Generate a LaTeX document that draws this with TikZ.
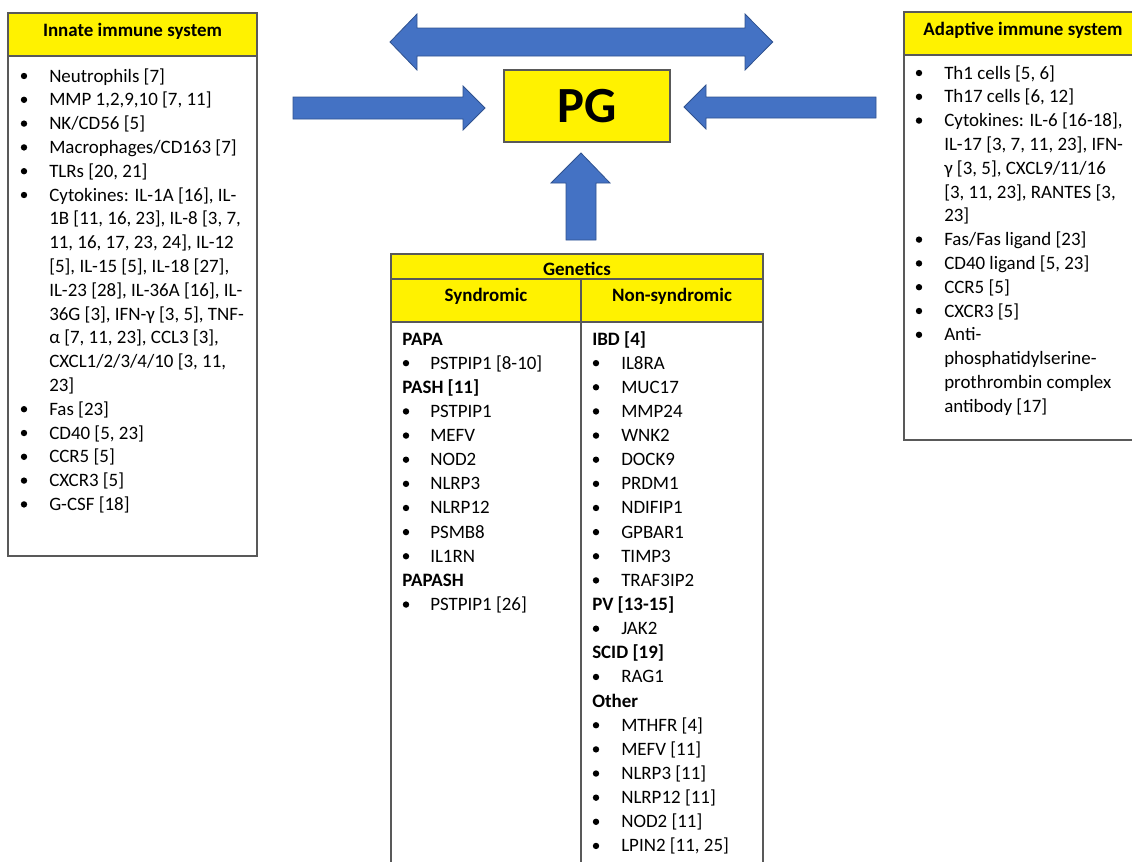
\documentclass[tikz,border=0pt]{standalone}
\usepackage{fontspec}
\setmainfont{Carlito}
\definecolor{arrowblue}{HTML}{4472C4}
\definecolor{arrowedge}{HTML}{2F528F}
\definecolor{boxline}{HTML}{595959}
\begin{document}
\begin{tikzpicture}[x=0.75pt,y=-0.75pt,
  txt/.style={font=\fontsize{14.2pt}{17pt}\selectfont, inner sep=0pt, anchor=base west, text=black},
  boldtxt/.style={txt, font=\fontsize{14.2pt}{17pt}\selectfont\bfseries},
  hdr/.style={boldtxt, anchor=base},
  boxframe/.style={draw=boxline, line width=0.8pt},
  ybox/.style={boxframe, fill=yellow},
  blk/.style={fill=arrowblue, draw=arrowedge, line width=0.6pt, line join=miter},
  bul/.style={fill=black}]
\useasboundingbox (0,0) rectangle (1132,861);

% ---------- Innate immune system ----------
\draw[boxframe] (8,13) rectangle (257,556);
\draw[ybox] (8,13) rectangle (257,56);
\node[hdr] (innhead) at (132.5,36) {Innate immune system};
\foreach \t [count=\i] in {
  {Neutrophils [7]},
  {MMP 1,2,9,10 [7, 11]},
  {NK/CD56 [5]},
  {Macrophages/CD163 [7]},
  {TLRs [20, 21]},
  {Cytokines: IL-1A [16], IL-},
  {1B [11, 16, 23], IL-8 [3, 7,},
  {11, 16, 17, 23, 24], IL-12},
  {[5], IL-15 [5], IL-18 [27],},
  {IL-23 [28], IL-36A [16], IL-},
  {36G [3], IFN-γ [3, 5], TNF-},
  {α [7, 11, 23], CCL3 [3],},
  {CXCL1/2/3/4/10 [3, 11,},
  {23]},
  {Fas [23]},
  {CD40 [5, 23]},
  {CCR5 [5]},
  {CXCR3 [5]},
  {G-CSF [18]}}
  \node[txt] (inn\i) at (49,{82+(\i-1)*23.8}) {\t};
\foreach \i in {1,2,3,4,5,6,15,16,17,18,19}
  \fill[bul] (24,{82+(\i-1)*23.8-6}) circle (2.4pt);

% ---------- Adaptive immune system ----------
\draw[boxframe] (904,12) rectangle (1142,440);
\draw[ybox] (904,12) rectangle (1142,55);
\node[hdr] (adahead) at (1023,35) {Adaptive immune system};
\foreach \t [count=\i] in {
  {Th1 cells [5, 6]},
  {Th17 cells [6, 12]},
  {Cytokines: IL-6 [16-18],},
  {IL-17 [3, 7, 11, 23], IFN-},
  {γ [3, 5], CXCL9/11/16},
  {[3, 11, 23], RANTES [3,},
  {23]},
  {Fas/Fas ligand [23]},
  {CD40 ligand [5, 23]},
  {CCR5 [5]},
  {CXCR3 [5]},
  {Anti-},
  {phosphatidylserine-},
  {prothrombin complex},
  {antibody [17]}}
  \node[txt] (ada\i) at (944,{79+(\i-1)*23.8}) {\t};
\foreach \i in {1,2,3,8,9,10,11,12}
  \fill[bul] (919,{79+(\i-1)*23.8-6}) circle (2.4pt);

% ---------- PG ----------
\node[ybox, minimum width=124.5pt, minimum height=54pt, inner sep=0pt,
      font=\fontsize{38pt}{40pt}\selectfont\bfseries] (pg) at (587,106) {PG};

% ---------- Block arrows ----------
\filldraw[blk] (390,42) -- (417,14) -- (417,28) -- (745,28) -- (745,14) -- (772.7,42)
  -- (745,70) -- (745,56) -- (417,56) -- (417,70) -- cycle;
\filldraw[blk] (293,97) -- (463,97) -- (463,86) -- (485,108) -- (463,130) -- (463,119)
  -- (293,119) -- cycle;
\filldraw[blk] (876,97) -- (706,97) -- (706,85) -- (684,107) -- (706,129) -- (706,118)
  -- (876,118) -- cycle;
\filldraw[blk] (581,153) -- (610,183) -- (596,183) -- (596,240) -- (566,240) -- (566,183)
  -- (551,183) -- cycle;

% ---------- Genetics ----------
\draw[boxframe] (391,322) rectangle (763,880);
\draw[ybox] (391,254) rectangle (763,279);
\draw[ybox] (391,279) rectangle (763,322);
\draw[boxframe] (581,279) -- (581,880);
\node[hdr] (genhead) at (577,275) {Genetics};
\node[hdr] (synhead) at (486,301) {Syndromic};
\node[hdr] (nsynhead) at (672,301) {Non-syndromic};

\foreach \i/\t in {1/{PAPA}, 3/{PASH [11]}, 11/{PAPASH}}
  \node[boldtxt] (sh\i) at (402,{345+(\i-1)*24.14}) {\t};
\foreach \i/\t in {2/{PSTPIP1 [8-10]}, 4/{PSTPIP1}, 5/{MEFV}, 6/{NOD2}, 7/{NLRP3},
                   8/{NLRP12}, 9/{PSMB8}, 10/{IL1RN}, 12/{PSTPIP1 [26]}}
  {\node[txt] (sb\i) at (430,{345+(\i-1)*24.14}) {\t};
   \fill[bul] (406,{345+(\i-1)*24.14-6}) circle (2.4pt);}

\foreach \i/\t in {1/{IBD [4]}, 12/{PV [13-15]}, 14/{SCID [19]}, 16/{Other}}
  \node[boldtxt] (nh\i) at (592,{345+(\i-1)*24.14}) {\t};
\foreach \i/\t in {2/{IL8RA}, 3/{MUC17}, 4/{MMP24}, 5/{WNK2}, 6/{DOCK9}, 7/{PRDM1},
                   8/{NDIFIP1}, 9/{GPBAR1}, 10/{TIMP3}, 11/{TRAF3IP2}, 13/{JAK2},
                   15/{RAG1}, 17/{MTHFR [4]}, 18/{MEFV [11]}, 19/{NLRP3 [11]},
                   20/{NLRP12 [11]}, 21/{NOD2 [11]}, 22/{LPIN2 [11, 25]}}
  {\node[txt] (nb\i) at (621,{345+(\i-1)*24.14}) {\t};
   \fill[bul] (596,{345+(\i-1)*24.14-6}) circle (2.4pt);}
\end{tikzpicture}
\end{document}
